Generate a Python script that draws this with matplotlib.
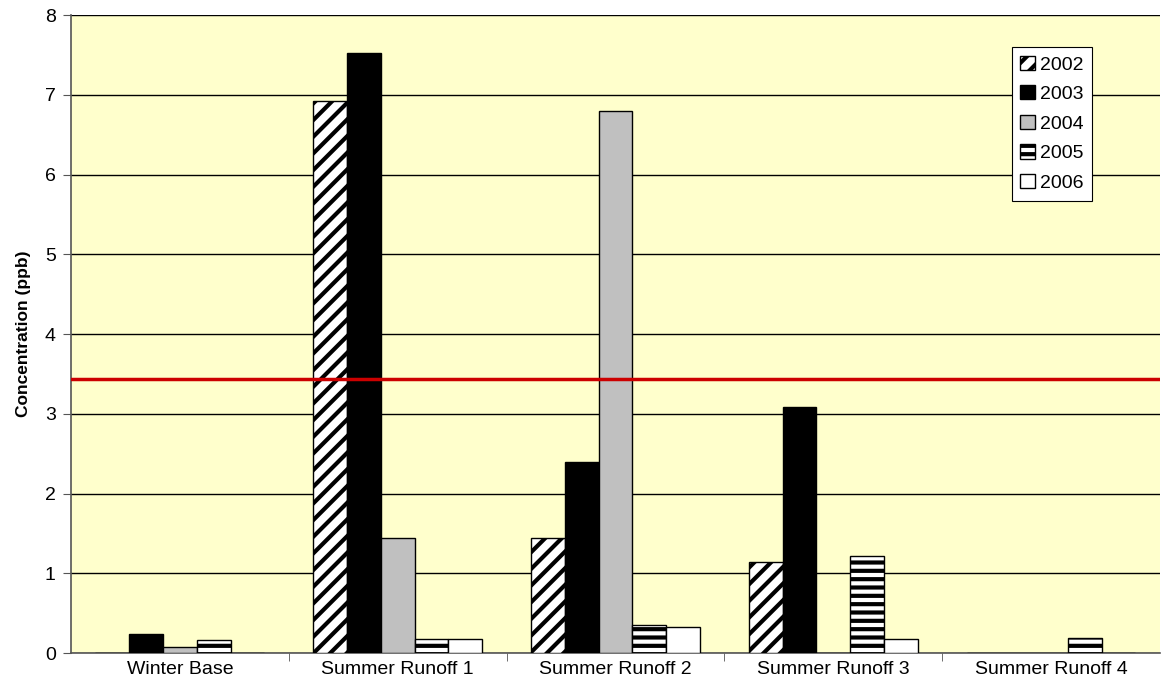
import numpy as np
import matplotlib.pyplot as plt

plt.rcParams["font.family"] = ["Liberation Sans", "DejaVu Sans"]
plt.rcParams["hatch.linewidth"] = 3.0

categories = ["Winter Base", "Summer Runoff 1", "Summer Runoff 2", "Summer Runoff 3", "Summer Runoff 4"]
years = ["2002", "2003", "2004", "2005", "2006"]
conc_2002 = [0.0, 6.92, 1.44, 1.14, 0.0]
conc_2003 = [0.24, 7.52, 2.40, 3.09, 0.0]
conc_2004 = [0.07, 1.44, 6.80, 0.0, 0.0]
conc_2005 = [0.16, 0.17, 0.35, 1.22, 0.19]
conc_2006 = [0.0, 0.18, 0.33, 0.18, 0.0]
threshold = 3.44

series = [conc_2002, conc_2003, conc_2004, conc_2005, conc_2006]
styles = [
    dict(color="white", hatch="//"),
    dict(color="black", hatch=None),
    dict(color="#c0c0c0", hatch=None),
    dict(color="white", hatch="--"),
    dict(color="white", hatch=None),
]

fig = plt.figure(figsize=(11.62, 6.86), dpi=100)
ax = fig.add_axes([0.0611, 0.0481, 0.937, 0.930])
ax.set_facecolor("#ffffcc")

x = np.arange(len(categories))
width = 0.155
for i, (vals, st) in enumerate(zip(series, styles)):
    ax.bar(x + (i - 2) * width, vals, width, color=st["color"], hatch=st["hatch"],
           edgecolor="black", linewidth=1.0, label=years[i], zorder=3)

ax.axhline(threshold, color="#cc0000", linewidth=2.5, zorder=4)

ax.set_xlim(-0.5, 4.5)
ax.set_ylim(0, 8)
ax.set_yticks(range(9))
ax.yaxis.grid(True, color="black", linewidth=1.0, zorder=0)
ax.set_axisbelow(True)

ax.set_xticks(x)
ax.set_xticklabels(categories, fontsize=14)
ax.tick_params(axis="x", length=0, pad=6)
ax.set_xticks(np.arange(0.5, 4.5, 1.0), minor=True)
ax.tick_params(axis="x", which="minor", length=6, color="#555555")
ax.tick_params(axis="y", labelsize=14, length=6, color="#555555", pad=5)

ax.set_ylabel("Concentration (ppb)", fontsize=12.5, fontweight="bold", labelpad=10)

for side in ["top", "right"]:
    ax.spines[side].set_visible(False)
for side in ["left", "bottom"]:
    ax.spines[side].set_color("#555555")
    ax.spines[side].set_linewidth(1.2)

leg = ax.legend(loc="upper left", bbox_to_anchor=(0.864, 0.95), fontsize=14,
                frameon=True, fancybox=False, edgecolor="black", framealpha=1,
                handlelength=0.75, handleheight=0.75, handletextpad=0.25,
                labelspacing=0.6, borderpad=0.45, borderaxespad=0)
leg.get_frame().set_linewidth(0.8)

fig.savefig("out.png", dpi=100)
